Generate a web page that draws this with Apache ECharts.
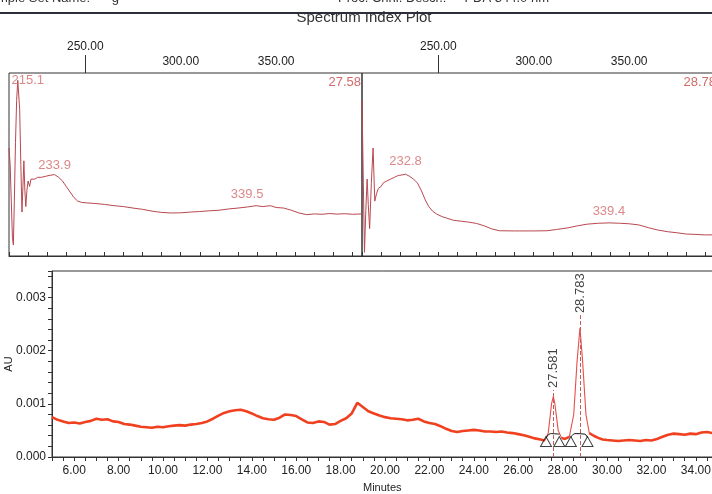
<!DOCTYPE html>
<html>
<head>
<meta charset="utf-8">
<title>Spectrum Index Plot</title>
<script src="https://cdn.jsdelivr.net/npm/echarts@6/dist/echarts.min.js"></script>
<style>
  html, body { margin: 0; padding: 0; background: #fff; }
  #chart { width: 712px; height: 494px; }
</style>
</head>
<body>
<div id="chart"></div>
<script>
// spectrum taken at the first peak (27.58 min)
var wl1 = [210.0, 210.6, 211.2, 211.8, 212.3, 212.8, 213.4, 214.0, 214.6, 215.1, 215.6, 216.2, 216.8, 217.3, 217.8, 218.3, 218.8, 219.4,
  220.0, 220.8, 221.5, 222.5, 223.5, 225, 227, 229, 231, 233.9, 236, 238, 240, 242, 244, 246, 248, 251, 255, 260, 265, 270, 275,
  280, 285, 290, 295, 300, 305, 310, 315, 320, 325, 330, 335, 339.5, 343, 347, 350, 354, 358, 362, 366, 370, 374, 378, 382, 386, 390, 395];
var abs1 = [0.59, 0.50, 0.30, 0.10, 0.06, 0.30, 0.62, 0.85, 0.96, 0.97, 0.80, 0.50, 0.24, 0.38, 0.52, 0.36, 0.27, 0.36,
  0.41, 0.38, 0.42, 0.41, 0.42, 0.43, 0.43, 0.435, 0.44, 0.445, 0.43, 0.41, 0.38, 0.35, 0.32, 0.30, 0.293, 0.29, 0.287, 0.282, 0.275, 0.27, 0.262,
  0.255, 0.245, 0.238, 0.235, 0.236, 0.24, 0.243, 0.247, 0.25, 0.257, 0.262, 0.268, 0.275, 0.27, 0.275, 0.265, 0.262, 0.25, 0.235, 0.226, 0.23, 0.228, 0.232, 0.229, 0.231, 0.228, 0.23];
var maxima1 = [215.1, 233.9, 339.5];

// spectrum taken at the second peak (28.78 min)
var wl2 = [210.0, 210.7, 211.3, 212.0, 212.7, 213.3, 214.0, 214.9, 215.8, 216.7, 217.6, 218.6, 220, 221.2, 223, 225, 227, 229, 231, 232.8,
  235, 237, 239, 241, 243, 245, 247, 249, 252, 255, 258, 262, 266, 270, 274, 278, 282, 290, 300, 307, 312, 318, 323, 328, 334, 339.4,
  345, 350, 355, 360, 365, 370, 375, 380, 385, 390, 395];
var abs2 = [0.85, 0.40, 0.02, 0.25, 0.42, 0.28, 0.15, 0.40, 0.59, 0.30, 0.34, 0.37, 0.38, 0.40, 0.41, 0.42, 0.43, 0.44, 0.443, 0.447,
  0.435, 0.42, 0.40, 0.36, 0.31, 0.27, 0.245, 0.23, 0.215, 0.205, 0.195, 0.19, 0.185, 0.178, 0.165, 0.148, 0.138, 0.137, 0.137, 0.138, 0.145, 0.154, 0.165, 0.174, 0.179, 0.181,
  0.179, 0.176, 0.17, 0.155, 0.142, 0.133, 0.127, 0.12, 0.118, 0.115, 0.116];
var maxima2 = [232.8, 339.4];

// chromatogram (PDA 344.0 nm)
var chromTime = [5.0, 5.25, 5.5, 5.75, 6.0, 6.25, 6.5, 6.75, 7.0, 7.25, 7.5, 7.75, 8.0, 8.25, 8.5, 8.75, 9.0, 9.25, 9.5, 9.75,
  10.0, 10.25, 10.5, 10.75, 11.0, 11.25, 11.5, 11.75, 12.0, 12.25, 12.5, 12.75, 13.0, 13.25, 13.5, 13.75, 14.0, 14.25, 14.5, 14.75,
  15.0, 15.25, 15.5, 15.75, 16.0, 16.25, 16.5, 16.75, 17.0, 17.25, 17.5, 17.75, 18.0, 18.25, 18.5, 18.75, 19.0, 19.25, 19.5, 19.75,
  20.0, 20.25, 20.5, 20.75, 21.0, 21.25, 21.5, 21.75, 22.0, 22.25, 22.5, 22.75, 23.0, 23.25, 23.5, 23.75, 24.0, 24.25, 24.5, 24.75,
  25.0, 25.25, 25.5, 25.75, 26.0, 26.25, 26.5, 26.75, 27.0, 27.2, 27.35, 27.5, 27.58, 27.65, 27.8, 27.95, 28.1, 28.3, 28.5, 28.65,
  28.78, 28.9, 29.05, 29.2, 29.4, 29.6, 29.8, 30.0, 30.25, 30.5, 30.75, 31.0, 31.25, 31.5, 31.75, 32.0, 32.25, 32.5, 32.75, 33.0,
  33.25, 33.5, 33.75, 34.0, 34.25, 34.5, 34.75];
var chromAu = [0.00075, 0.00070, 0.00067, 0.00064, 0.00065, 0.00063, 0.00066, 0.00068, 0.00072, 0.00070, 0.00071, 0.00067, 0.00066, 0.00062, 0.00061, 0.00059, 0.00057, 0.00056, 0.00055, 0.00057,
  0.00056, 0.00058, 0.00059, 0.00060, 0.00059, 0.00061, 0.00062, 0.00064, 0.00067, 0.00072, 0.00078, 0.00083, 0.00086, 0.00088, 0.00089, 0.00086, 0.00082, 0.00077, 0.00073, 0.00071,
  0.00070, 0.00074, 0.00080, 0.00079, 0.00077, 0.00071, 0.00065, 0.00064, 0.00067, 0.00066, 0.00061, 0.00062, 0.00068, 0.00073, 0.00082, 0.00102, 0.00094, 0.00086, 0.00082, 0.00078,
  0.00075, 0.00073, 0.00072, 0.00071, 0.00069, 0.00070, 0.00072, 0.00067, 0.00064, 0.00062, 0.00058, 0.00053, 0.00049, 0.00047, 0.00049, 0.00050, 0.00051, 0.00050, 0.00048, 0.00048,
  0.00047, 0.00048, 0.00046, 0.00045, 0.00043, 0.00041, 0.00038, 0.00035, 0.00033, 0.00031, 0.00045, 0.00100, 0.00114, 0.00100, 0.00050, 0.00036, 0.00034, 0.00038, 0.00080, 0.00180,
  0.00243, 0.00180, 0.00080, 0.00045, 0.00040, 0.00036, 0.00033, 0.00032, 0.00031, 0.00030, 0.00031, 0.00032, 0.00031, 0.00030, 0.00032, 0.00031, 0.00034, 0.00038, 0.00042, 0.00044,
  0.00043, 0.00042, 0.00044, 0.00043, 0.00046, 0.00047, 0.00045];

var peakTimes = [27.581, 28.783];
var peakWindows = [[27.2, 27.95], [28.3, 29.2]];
var peakLabelTop = [0.00126, 0.00267];
var peakMarks = [27.25, 27.85, 28.37, 29.12];
var markLevel = 0.00029;
var baseline1 = [[27.25, 0.00035], [27.45, 0.00044], [27.85, 0.00043]];
var baseline2 = [[28.37, 0.00037], [28.55, 0.00044], [29.0, 0.00043], [29.12, 0.00036]];

var FONT = 'Liberation Sans, Arial, sans-serif';
var AXIS = '#333';

function zip(a, b) { return a.map(function (v, i) { return [v, b[i]]; }); }
function lookup(xs, ys, x) { return ys[xs.indexOf(x)]; }
function inWindow(t) {
  return peakWindows.some(function (w) { return t >= w[0] && t <= w[1]; });
}
function strictlyInWindow(t) {
  return peakWindows.some(function (w) { return t > w[0] && t < w[1]; });
}

// noisy baseline drawn thick, the peak windows drawn thin
var traceBase = chromTime.map(function (t, i) { return [t, strictlyInWindow(t) ? '-' : chromAu[i]]; });
var tracePeaks = chromTime.map(function (t, i) { return [t, inWindow(t) ? chromAu[i] : '-']; });

function specAxes(grid) {
  return [{
    gridIndex: grid, type: 'value', position: 'top', min: 210, max: 395, interval: 10,
    axisLine: { lineStyle: { color: AXIS, width: 1 } },
    axisTick: { length: 4, lineStyle: { color: AXIS } },
    axisLabel: { customValues: [300, 350], formatter: function (v) { return v.toFixed(2); },
      margin: 5, fontSize: 12, color: '#222', fontFamily: FONT },
    splitLine: { show: false }
  }, {
    gridIndex: grid, type: 'value', position: 'top', min: 210, max: 395,
    axisLine: { show: false },
    axisTick: { customValues: [250], length: 18, lineStyle: { color: AXIS } },
    axisLabel: { customValues: [250], formatter: function (v) { return v.toFixed(2); },
      margin: 20, fontSize: 12, color: '#222', fontFamily: FONT },
    splitLine: { show: false }
  }];
}

function maximaLabels(axis, wl, ab, maxima, tweaks) {
  return {
    type: 'scatter', xAxisIndex: axis, yAxisIndex: axis / 2, symbolSize: 0, z: 5,
    data: maxima.map(function (w, i) {
      return { value: [w, lookup(wl, ab, w)], label: tweaks[i] };
    }),
    label: { show: true, position: 'top', color: '#d26a6a', fontSize: 13, fontFamily: FONT,
      formatter: function (p) { return p.value[0].toFixed(1); } }
  };
}

var chart = echarts.init(document.getElementById('chart'), null, { renderer: 'canvas' });
chart.setOption({
  animation: false,
  backgroundColor: '#fff',
  textStyle: { fontFamily: FONT },
  grid: [
    { left: 9, top: 73, width: 353, height: 183, show: true, borderColor: AXIS, borderWidth: 1, outerBoundsMode: 'none' },
    { left: 362, top: 73, width: 353, height: 183, show: true, borderColor: AXIS, borderWidth: 1, outerBoundsMode: 'none' },
    { left: 52, top: 271, width: 660.5, height: 186, show: true, borderColor: AXIS, borderWidth: 1, outerBoundsMode: 'none' }
  ],
  xAxis: specAxes(0).concat(specAxes(1)).concat([{
    gridIndex: 2, type: 'value', min: 5, max: 34.75, interval: 0.5,
    axisLine: { lineStyle: { color: AXIS } },
    axisTick: { length: 4, lineStyle: { color: AXIS } },
    axisLabel: { margin: 8, fontSize: 12, color: '#222', fontFamily: FONT,
      formatter: function (v) { return v % 2 === 0 ? v.toFixed(2) : ''; } },
    splitLine: { show: false },
    name: 'Minutes', nameLocation: 'middle', nameGap: 25, nameMoveOverlap: false,
    nameTextStyle: { fontSize: 11, color: '#222', fontFamily: FONT }
  }]),
  yAxis: [
    { gridIndex: 0, type: 'value', min: 0, max: 1, show: false },
    { gridIndex: 1, type: 'value', min: 0, max: 1, show: false },
    {
      gridIndex: 2, type: 'value', min: 0, max: 0.0035, interval: 0.0002,
      axisLine: { show: true, lineStyle: { color: AXIS } },
      axisTick: { show: true, length: 4, lineStyle: { color: AXIS } },
      axisLabel: { margin: 6, fontSize: 12, color: '#222', fontFamily: FONT,
        formatter: function (v) {
          var k = v * 1000;
          return Math.abs(k - Math.round(k)) < 1e-6 ? (Math.round(k) / 1000).toFixed(3) : '';
        } },
      splitLine: { show: false },
      name: 'AU', nameLocation: 'middle', nameGap: 38, nameMoveOverlap: false,
      nameTextStyle: { fontSize: 11, color: '#222', fontFamily: FONT }
    }
  ],
  graphic: [
    { type: 'text', left: -3, top: -8, style: { text: 'mple Set Name:      g', font: '13px ' + FONT, fill: '#333' } },
    { type: 'text', left: 338, top: -8, style: { text: 'Proc. Chnl. Descr.:     PDA 344.0 nm', font: '13px ' + FONT, fill: '#333' } },
    { type: 'line', shape: { x1: 0, y1: 13, x2: 712, y2: 13 }, style: { stroke: '#2b2d3a', lineWidth: 2 } },
    { type: 'text', x: 364, y: 18, style: { text: 'Spectrum Index Plot', font: '15px ' + FONT, fill: '#333', textAlign: 'center', textVerticalAlign: 'middle' } },
    { type: 'text', x: 361, y: 76, style: { text: peakTimes[0].toFixed(2), font: '13px ' + FONT, fill: '#d26a6a', textAlign: 'right' } },
    { type: 'text', x: 716, y: 76, style: { text: peakTimes[1].toFixed(2), font: '13px ' + FONT, fill: '#d26a6a', textAlign: 'right' } }
  ],
  series: [
    { type: 'line', xAxisIndex: 0, yAxisIndex: 0, data: zip(wl1, abs1), showSymbol: false,
      lineStyle: { color: '#b9474f', width: 1 } },
    maximaLabels(0, wl1, abs1, maxima1, [
      { position: 'inside', offset: [9, 2] },
      { distance: 3 },
      { distance: 5, offset: [-9, 0] }
    ]),
    { type: 'line', xAxisIndex: 2, yAxisIndex: 1, data: zip(wl2, abs2), showSymbol: false,
      lineStyle: { color: '#b9474f', width: 1 } },
    maximaLabels(2, wl2, abs2, maxima2, [{ distance: 6 }, { distance: 5 }]),
    {
      type: 'line', xAxisIndex: 4, yAxisIndex: 2, data: traceBase, showSymbol: false, connectNulls: false,
      lineStyle: { color: '#f0401f', width: 2.6 },
      markLine: {
        silent: true, symbol: 'none', label: { show: false },
        lineStyle: { type: 'dashed', color: '#c85a5a', width: 1 },
        data: peakTimes.map(function (t, i) { return [{ coord: [t, 0] }, { coord: [t, peakLabelTop[i]] }]; })
      }
    },
    { type: 'line', xAxisIndex: 4, yAxisIndex: 2, data: tracePeaks, showSymbol: false, connectNulls: false,
      lineStyle: { color: '#e4504a', width: 1.1 } },
    { type: 'line', xAxisIndex: 4, yAxisIndex: 2, data: baseline1, showSymbol: false, smooth: 0.4,
      lineStyle: { color: '#111', width: 1 } },
    { type: 'line', xAxisIndex: 4, yAxisIndex: 2, data: baseline2, showSymbol: false, smooth: 0.4,
      lineStyle: { color: '#111', width: 1 } },
    { type: 'scatter', xAxisIndex: 4, yAxisIndex: 2, symbol: 'triangle', symbolSize: [11, 10], z: 6,
      data: peakMarks.map(function (t) { return [t, markLevel]; }),
      itemStyle: { color: 'rgba(255,255,255,0)', borderColor: '#111', borderWidth: 1 } },
    { type: 'scatter', xAxisIndex: 4, yAxisIndex: 2, symbolSize: 0, z: 6,
      data: peakTimes.map(function (t, i) { return [t, peakLabelTop[i]]; }),
      label: { show: true, position: 'top', distance: 2, rotate: 90, align: 'left', verticalAlign: 'middle',
        fontSize: 13, color: '#111', fontFamily: FONT,
        formatter: function (p) { return p.value[0].toFixed(3); } } }
  ]
});
</script>
</body>
</html>
